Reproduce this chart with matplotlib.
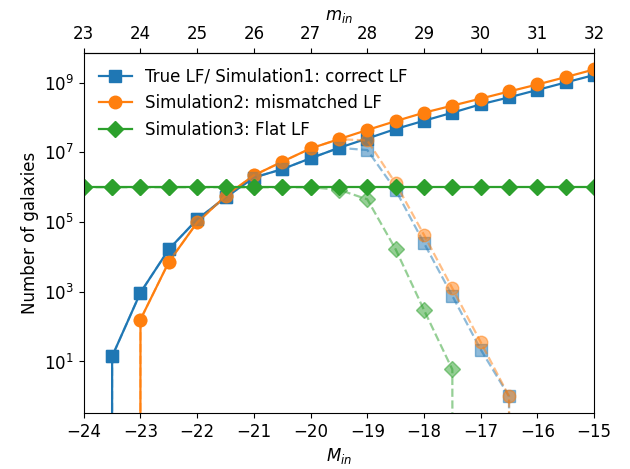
import numpy as np
import matplotlib
matplotlib.use('Agg')
import matplotlib.pyplot as plt

plt.rcParams['font.size'] = 12

# absolute magnitude bins
M_in = np.arange(-24, -14.9, 0.5)
m_offset = 47  # apparent = absolute + offset

# solid lines: input luminosity functions
true_lf = [0, 1.4e1, 9.5e2, 1.66e4, 1.2e5, 5.1e5, 1.9e6, 3.3e6, 6.8e6, 1.35e7,
           2.5e7, 4.7e7, 8.1e7, 1.38e8, 2.4e8, 3.8e8, 6.2e8, 1.02e9, 1.66e9]
mismatch_lf = [0, 0, 1.6e2, 7.2e3, 9.8e4, 5.6e5, 2.2e6, 5.4e6, 1.3e7, 2.4e7,
               4.4e7, 7.9e7, 1.38e8, 2.2e8, 3.5e8, 5.6e8, 8.9e8, 1.45e9, 2.4e9]
flat_lf = [1e6] * 19

# dashed lines: detected counts
true_det = [0, 1.4e1, 9.5e2, 1.66e4, 1.2e5, 5.1e5, 1.9e6, 3.3e6, 6.8e6, 1.35e7,
            1.17e7, 8.3e5, 2.5e4, 7.6e2, 2.2e1, 1.0, 0, 0, 0]
mismatch_det = [0, 0, 1.6e2, 7.2e3, 9.8e4, 5.6e5, 2.2e6, 5.4e6, 1.3e7, 2.4e7,
                2.2e7, 1.3e6, 4.3e4, 1.26e3, 3.6e1, 1.0, 0, 0, 0]
flat_det = [1e6, 1e6, 1e6, 1e6, 1e6, 1e6, 1e6, 1e6, 1e6, 8.5e5,
            4.5e5, 1.66e4, 3.0e2, 5.9, 0, 0, 0, 0, 0]

labels = ['True LF/ Simulation1: correct LF', 'Simulation2: mismatched LF',
          'Simulation3: Flat LF']

f = plt.figure(figsize=(6.3, 4.69), dpi=100)
ax = f.add_subplot(111)
f.subplots_adjust(left=0.133, right=0.943, bottom=0.119, top=0.887)

l1, = ax.plot(M_in, true_lf, 's-', color='tab:blue', lw=1.6, ms=9, label=labels[0])
l2, = ax.plot(M_in, mismatch_lf, 'o-', color='tab:orange', lw=1.6, ms=9, label=labels[1])
ax.plot(M_in, true_det, 's--', color='tab:blue', lw=1.6, ms=9, alpha=0.5)
ax.plot(M_in, mismatch_det, 'o--', color='tab:orange', lw=1.6, ms=9, alpha=0.5)
ax.plot(M_in, flat_det, 'D--', color='tab:green', lw=1.6, ms=8, alpha=0.5)
l3, = ax.plot(M_in, flat_lf, 'D-', color='tab:green', lw=1.6, ms=8, label=labels[2])

ax.set_yscale('log')
ax.set_xlim(-24, -15)
ax.set_ylim(10**-0.484, 10**9.853)
ax.set_xticks(np.arange(-24, -14, 1))
ax.set_xlabel('$M_{in}$')
ax.set_ylabel('Number of galaxies')
ax.legend(handles=[l1, l2, l3], loc='upper left', frameon=False)

top = ax.secondary_xaxis('top', functions=(lambda x: x + m_offset, lambda x: x - m_offset))
top.set_xticks(np.arange(23, 33, 1))
top.set_xlabel('$m_{in}$')

plt.savefig('out.png', dpi=100)
